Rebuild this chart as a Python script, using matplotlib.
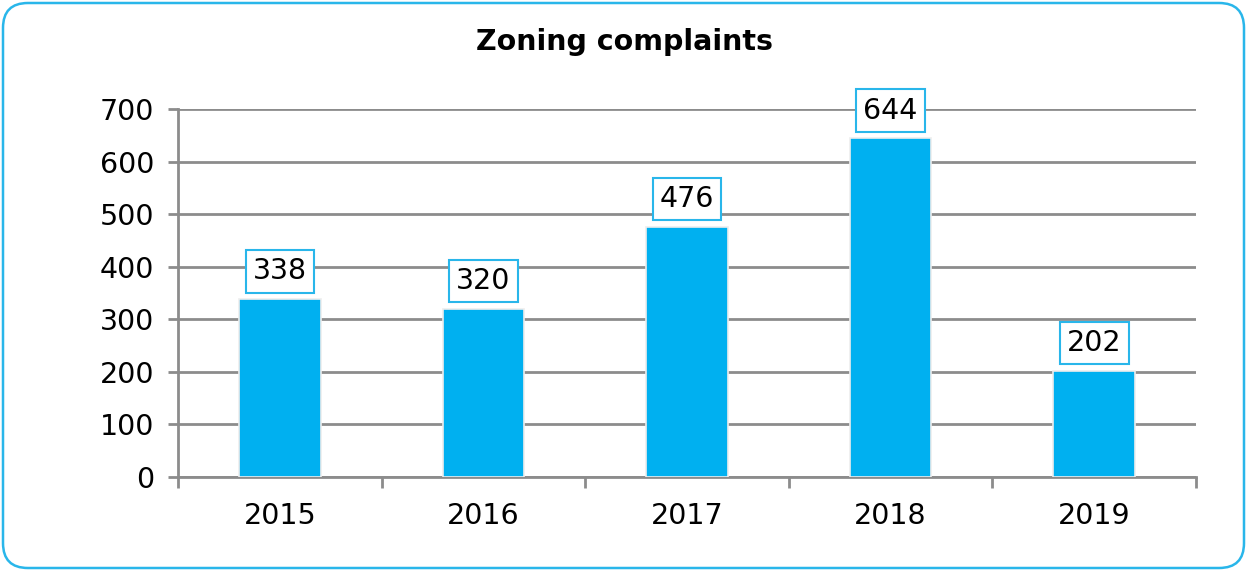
import matplotlib

matplotlib.use("Agg")
import matplotlib.pyplot as plt
from matplotlib.patches import FancyBboxPatch

years = ["2015", "2016", "2017", "2018", "2019"]
complaints = [338, 320, 476, 644, 202]
y_ticks = [0, 100, 200, 300, 400, 500, 600, 700]

BAR_BLUE = "#00B0F0"
BORDER_BLUE = "#29B6EA"
GRID_GRAY = "#8C8C8C"
FS = 20.5

plt.rcParams["font.family"] = ["DejaVu Sans"]

fig = plt.figure(figsize=(12.47, 5.71), dpi=100)
fig.patch.set_facecolor("white")

# rounded outer frame
frame = FancyBboxPatch(
    (3 / 1247, 3 / 571), 1241 / 1247, 565 / 571,
    boxstyle="round,pad=0,rounding_size=0.02",
    transform=fig.transFigure, facecolor="none",
    edgecolor=BORDER_BLUE, linewidth=1.8,
    mutation_aspect=1247 / 571,
)
fig.patches.append(frame)

ax = fig.add_axes([178 / 1247, 1 - 477 / 571, (1196 - 178) / 1247, (477 - 109) / 571])
x = list(range(len(years)))
ax.bar(x, complaints, width=0.4, color=BAR_BLUE, edgecolor="#EDEDED", linewidth=1.2, zorder=3)

for xi, v in zip(x, complaints):
    ax.annotate(
        str(v), (xi, v), xytext=(0, 10), textcoords="offset points",
        ha="center", va="bottom", fontsize=FS, color="black", zorder=5,
        bbox=dict(boxstyle="square,pad=0.25", facecolor="white", edgecolor=BORDER_BLUE, linewidth=1.5),
    )

ax.set_xlim(-0.5, len(years) - 0.5)
ax.set_ylim(0, 700)
ax.set_yticks(y_ticks)
ax.set_yticklabels([str(t) for t in y_ticks], fontsize=FS)
ax.set_xticks(x)
ax.set_xticklabels(years, fontsize=FS)
ax.set_xticks([i - 0.5 for i in range(len(years) + 1)], minor=True)

ax.grid(axis="y", color=GRID_GRAY, linewidth=2, zorder=0)
ax.tick_params(axis="y", length=7, width=2, color=GRID_GRAY, pad=10)
ax.tick_params(axis="x", which="major", length=0, pad=18)
ax.tick_params(axis="x", which="minor", length=8, width=2, color=GRID_GRAY)

for side in ("top", "right"):
    ax.spines[side].set_visible(False)
for side in ("left", "bottom"):
    ax.spines[side].set_color(GRID_GRAY)
    ax.spines[side].set_linewidth(2)

fig.text(625 / 1247, 1 - 42 / 571, "Zoning complaints", ha="center", va="center",
         fontsize=FS, fontweight="bold")

fig.savefig("out.png", dpi=100)
